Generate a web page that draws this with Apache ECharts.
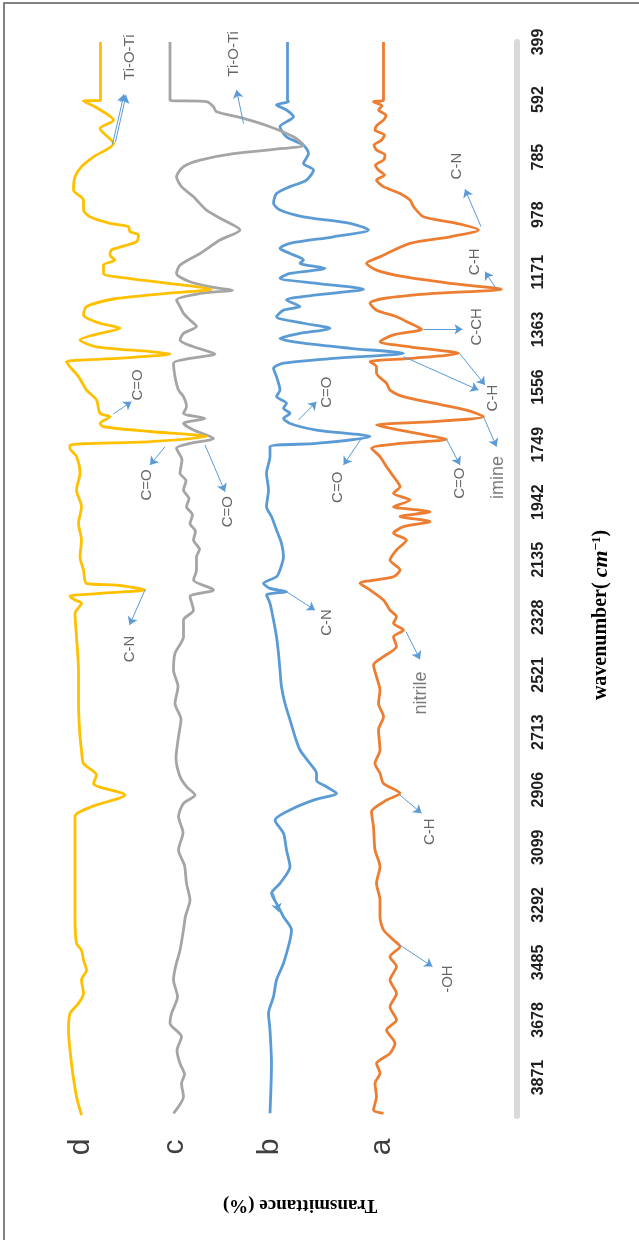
<!DOCTYPE html>
<html>
<head>
<meta charset="utf-8">
<script src="https://cdn.jsdelivr.net/npm/echarts@6.0.0/dist/echarts.min.js"></script>
<style>
  html, body {margin: 0; padding: 0; background: #fff;}
  #main {width: 639px; height: 1240px;}
</style>
</head>
<body>
<div id="main"></div>
<script>
// wavenumber labels shown on the axis (cm-1)
const tickWaves = [399, 592, 785, 978, 1171, 1363, 1556, 1749, 1942, 2135, 2328, 2521, 2713, 2906, 3099, 3292, 3485, 3678, 3871];

// d (yellow)
const waveD = [399, 594, 597, 616, 661, 689, 739, 784, 817, 851, 895, 929, 962, 985, 1007, 1018, 1035, 1046, 1069, 1096, 1113, 1130, 1147, 1175, 1191, 1214, 1228, 1242, 1259, 1286, 1314, 1342, 1359, 1376, 1398, 1421, 1437, 1445, 1460, 1471, 1488, 1521, 1566, 1599, 1644, 1655, 1678, 1689, 1705, 1722, 1739, 1750, 1761, 1789, 1845, 1901, 1957, 2013, 2069, 2125, 2169, 2214, 2220, 2236, 2248, 2257, 2270, 2281, 2315, 2393, 2505, 2617, 2728, 2773, 2818, 2857, 2885, 2924, 2957, 2980, 2996, 3108, 3220, 3332, 3421, 3444, 3477, 3511, 3544, 3589, 3622, 3656, 3712, 3824, 3935, 3997];
const transD = [83.3, 83.3, 86.7, 84.4, 80.7, 83.4, 80.7, 84.7, 87.1, 88.4, 88.7, 86.7, 86.7, 85.4, 81.4, 77.7, 77.4, 75.7, 76.1, 81.1, 81.4, 80.4, 82.7, 82.7, 78.1, 66.7, 61.1, 70.1, 80.1, 86.1, 86.7, 83.4, 79.4, 83.4, 87.4, 84.1, 73.4, 69.4, 80.1, 90.1, 89.4, 87.7, 86.1, 84.1, 83.4, 81.4, 83.4, 82.7, 73.4, 62.1, 73.4, 89.4, 89.4, 88.1, 87.4, 88.1, 87.1, 87.7, 87.1, 87.4, 86.7, 86.1, 80.1, 74.4, 83.4, 89.4, 88.4, 87.1, 88.4, 88.1, 87.7, 87.7, 87.4, 87.1, 86.7, 84.1, 84.7, 78.4, 84.1, 87.4, 88.4, 88.4, 88.4, 88.4, 88.1, 87.1, 86.7, 86.1, 87.1, 86.7, 87.7, 89.4, 89.7, 89.1, 88.1, 87.1];

// c (gray)
const waveC = [399, 594, 599, 616, 633, 655, 683, 717, 745, 756, 773, 795, 817, 851, 884, 918, 963, 996, 1029, 1063, 1108, 1147, 1175, 1203, 1222, 1231, 1242, 1264, 1286, 1309, 1331, 1353, 1376, 1398, 1421, 1445, 1460, 1476, 1521, 1566, 1588, 1622, 1644, 1661, 1678, 1700, 1728, 1745, 1761, 1800, 1845, 1870, 1901, 1930, 1957, 1985, 2013, 2040, 2069, 2100, 2125, 2169, 2203, 2236, 2259, 2304, 2337, 2393, 2449, 2505, 2560, 2617, 2670, 2728, 2800, 2862, 2896, 2924, 2952, 2996, 3050, 3108, 3160, 3220, 3276, 3330, 3376, 3444, 3500, 3544, 3600, 3656, 3689, 3734, 3780, 3824, 3860, 3891, 3935, 3991];
const transC = [69.4, 69.4, 62.1, 60.7, 60.1, 54.7, 49.4, 44.7, 42.7, 46.7, 56.7, 63.4, 66.7, 68.1, 67.1, 64.7, 62.1, 58.7, 55.4, 59.4, 63.4, 67.4, 68.1, 65.4, 60.7, 56.9, 63.4, 68.1, 67.4, 66.7, 65.4, 64.1, 66.7, 67.4, 64.7, 60.4, 65.4, 68.7, 68.4, 67.7, 66.7, 66.1, 66.7, 62.4, 66.7, 64.7, 60.7, 65.4, 68.1, 67.0, 67.4, 66.2, 66.7, 65.6, 66.1, 64.9, 65.4, 64.3, 64.7, 63.5, 64.1, 64.1, 64.7, 60.7, 65.4, 64.7, 66.7, 66.7, 68.4, 68.7, 67.8, 68.4, 67.2, 67.7, 68.2, 67.4, 66.1, 64.4, 66.7, 67.7, 66.8, 67.7, 66.5, 66.1, 65.4, 66.3, 66.7, 67.4, 68.3, 68.7, 67.9, 69.1, 69.4, 67.1, 68.0, 67.4, 66.5, 67.1, 66.7, 68.7];

// b (blue)
const waveB = [399, 594, 599, 610, 627, 650, 683, 717, 745, 773, 806, 828, 862, 884, 907, 940, 962, 985, 1007, 1029, 1052, 1074, 1091, 1108, 1130, 1141, 1158, 1175, 1191, 1208, 1228, 1247, 1264, 1286, 1298, 1320, 1342, 1359, 1376, 1393, 1409, 1426, 1443, 1460, 1476, 1493, 1521, 1566, 1588, 1610, 1627, 1644, 1661, 1678, 1700, 1722, 1745, 1756, 1789, 1845, 1901, 1957, 1990, 2035, 2080, 2125, 2169, 2192, 2214, 2231, 2242, 2253, 2281, 2337, 2393, 2449, 2505, 2561, 2617, 2672, 2728, 2773, 2818, 2851, 2874, 2896, 2918, 2941, 2974, 3008, 3052, 3108, 3164, 3220, 3253, 3287, 3332, 3376, 3410, 3488, 3544, 3600, 3656, 3712, 3824, 3991];
const transB = [45.9, 45.9, 45.7, 48.1, 46.1, 44.7, 47.4, 46.1, 42.7, 41.7, 42.7, 40.7, 42.1, 45.4, 48.1, 48.7, 47.4, 42.7, 33.4, 29.7, 36.7, 45.4, 47.4, 45.4, 42.7, 43.4, 38.4, 45.4, 47.4, 40.1, 30.7, 40.1, 46.1, 43.4, 46.7, 48.1, 42.7, 37.4, 43.4, 47.4, 42.7, 33.4, 22.7, 36.7, 46.7, 48.7, 48.1, 47.4, 48.1, 46.1, 46.7, 45.4, 46.7, 45.4, 40.1, 29.4, 40.1, 49.4, 49.4, 50.1, 49.7, 50.1, 49.1, 48.1, 47.1, 46.7, 47.4, 48.1, 50.7, 49.4, 46.1, 50.1, 49.4, 48.7, 48.1, 47.7, 47.4, 47.1, 46.4, 45.4, 44.4, 43.4, 41.4, 40.1, 40.1, 38.1, 36.1, 40.7, 45.4, 48.4, 46.7, 46.1, 45.4, 47.4, 49.1, 48.1, 46.7, 45.1, 45.4, 46.7, 48.1, 48.7, 49.7, 49.4, 49.1, 49.4];

// a (orange)
const waveA = [399, 594, 599, 613, 627, 645, 661, 678, 694, 711, 728, 745, 761, 778, 795, 812, 828, 845, 862, 884, 907, 929, 951, 985, 1007, 1029, 1052, 1074, 1119, 1141, 1164, 1186, 1208, 1228, 1242, 1259, 1275, 1298, 1320, 1342, 1362, 1381, 1404, 1421, 1443, 1460, 1471, 1488, 1510, 1543, 1566, 1588, 1610, 1633, 1655, 1672, 1683, 1700, 1717, 1731, 1745, 1761, 1789, 1823, 1856, 1890, 1912, 1935, 1957, 1974, 1990, 2007, 2024, 2046, 2069, 2102, 2136, 2169, 2192, 2214, 2236, 2270, 2304, 2326, 2348, 2371, 2393, 2426, 2460, 2488, 2527, 2572, 2617, 2661, 2706, 2773, 2818, 2851, 2885, 2918, 2941, 2980, 3030, 3108, 3164, 3220, 3276, 3332, 3376, 3410, 3432, 3466, 3499, 3544, 3589, 3634, 3678, 3712, 3756, 3790, 3824, 3857, 3891, 3935, 3980, 3991];
const transA = [26.7, 26.7, 28.7, 27.0, 27.7, 26.2, 26.7, 28.0, 28.4, 26.5, 27.1, 28.6, 28.1, 26.4, 26.7, 28.3, 27.7, 26.5, 28.1, 26.7, 23.4, 21.4, 20.7, 18.7, 12.1, 7.7, 13.4, 21.4, 27.4, 30.1, 28.1, 22.7, 13.4, 3.1, 16.7, 26.7, 29.4, 28.1, 24.1, 21.4, 19.1, 24.7, 27.4, 21.4, 11.7, 21.4, 29.4, 28.1, 28.1, 26.1, 25.4, 22.7, 16.7, 10.1, 6.7, 16.7, 28.1, 23.4, 18.1, 14.1, 23.4, 29.1, 27.4, 26.1, 24.7, 23.4, 24.7, 21.4, 24.7, 17.4, 23.4, 17.4, 22.7, 24.7, 22.1, 24.1, 25.4, 23.4, 24.7, 31.4, 29.4, 26.7, 25.4, 24.1, 24.7, 22.7, 24.7, 24.1, 26.7, 28.7, 28.1, 27.4, 27.7, 26.7, 27.7, 27.4, 28.4, 27.4, 26.7, 23.4, 26.1, 29.1, 28.7, 28.4, 27.4, 28.1, 27.4, 27.4, 26.7, 24.7, 23.4, 25.4, 24.1, 25.4, 24.1, 25.4, 24.1, 26.1, 24.4, 25.4, 28.1, 27.4, 28.4, 28.1, 28.7, 26.7];

// peak notes
const noteText = ['Ti-O-Ti', 'Ti-O-Ti', 'C-N', 'C-H', 'C-CH', 'C-H', 'imine', 'C=O', 'C=O', 'C=O', 'C=O', 'C=O', 'C=O', 'C-N', 'C-N', 'nitrile', 'C-H', '-OH'];
const noteWave = [450, 439, 815, 1136, 1354, 1593, 1859, 1878, 1892, 1573, 1549, 1884, 1974, 2434, 2345, 2582, 3047, 3541];
const noteTrans = [77.4, 56.6, 12.1, 8.4, 8.1, 4.8, 3.8, 11.4, 35.8, 38.0, 75.8, 74.1, 57.8, 77.4, 38.1, 19.1, 17.4, 13.8];

// arrows [transmittance, wavenumber]
const arrowFrom = [[80.9, 742], [80.3, 734], [54.7, 672], [7.2, 1018], [4.1, 1228], [18.7, 1362], [11.4, 1445], [22.7, 1454], [6.7, 1655], [14.1, 1731], [31.1, 1728], [43.7, 1666], [80.7, 1646], [70.4, 1756], [62.4, 1750], [74.4, 2236], [46.1, 2242], [22.2, 2376], [23.4, 2924], [23.4, 3427], [48.7, 3253]];
const arrowTo = [[78.6, 574], [78.2, 577], [56.1, 560], [10.4, 893], [6.4, 1169], [10.9, 1362], [6.4, 1549], [7.7, 1566], [4.1, 1756], [11.4, 1817], [34.7, 1817], [40.1, 1605], [77.1, 1605], [73.4, 1817], [58.4, 1907], [77.5, 2354], [40.4, 2304], [19.4, 2469], [19.1, 2985], [16.9, 3499], [47.7, 3315]];

const sampleNames = ['d', 'c', 'b', 'a'];

function pairs(w, t) {
  return w.map((x, i) => [t[i], x]);
}

function spectrum(name, w, t, color) {
  return {
    name: name,
    type: 'line',
    data: pairs(w, t),
    symbol: 'none',
    smooth: 0.25,
    silent: true,
    lineStyle: {color: color, width: 2.8, join: 'round'},
    emphasis: {disabled: true}
  };
}

const chart = echarts.init(document.getElementById('main'));

const option = {
  backgroundColor: '#fff',
  animation: false,
  grid: {left: 17, right: 122, top: 42, bottom: 124},
  xAxis: {type: 'value', min: 0, max: 100, inverse: true, show: false},
  yAxis: {
    type: 'value',
    min: 399,
    max: 4000,
    inverse: true,
    position: 'right',
    axisLine: {show: true, onZero: false, lineStyle: {color: '#d9d9d9', width: 6}},
    axisTick: {show: false},
    splitLine: {show: false},
    axisLabel: {
      customValues: tickWaves,
      formatter: v => String(v),
      rotate: 90,
      margin: 14,
      color: '#1f1f1f',
      fontSize: 16,
      fontWeight: 'bold',
      fontFamily: 'Liberation Sans'
    }
  },
  series: [
    spectrum('a', waveA, transA, '#ed7d31'),
    spectrum('b', waveB, transB, '#5b9bd5'),
    spectrum('c', waveC, transC, '#a5a5a5'),
    spectrum('d', waveD, transD, '#ffc000'),
    {
      type: 'scatter',
      silent: true,
      symbolSize: 1,
      itemStyle: {color: 'transparent'},
      emphasis: {disabled: true},
      data: noteText.map((txt, i) => ({
        value: [noteTrans[i], noteWave[i], txt],
        label: (txt === 'imine' || txt === 'nitrile') ? {fontSize: 18, color: '#595959'} : {}
      })),
      label: {
        show: true,
        position: 'inside',
        rotate: 90,
        formatter: p => p.value[2],
        fontSize: 15,
        color: '#404040',
        fontFamily: 'Liberation Sans'
      },
      markLine: {
        silent: true,
        symbol: ['none', 'arrow'],
        symbolSize: 8,
        label: {show: false},
        lineStyle: {color: '#5b9bd5', width: 1, type: 'solid'},
        emphasis: {disabled: true},
        data: arrowFrom.map((f, i) => [{coord: f}, {coord: arrowTo[i]}])
      },
      z: 5
    }
  ],
  graphic: [
    {
      type: 'rect', silent: true,
      shape: {x: 4, y: 3, width: 700, height: 1300},
      style: {fill: 'none', stroke: '#595959', lineWidth: 1.5}
    },
    {
      type: 'text', silent: true, x: 601, y: 615, rotation: Math.PI / 2,
      style: {
        text: '{b|wavenumber( }{i|cm}{s|−1}{b|)}',
        align: 'center', verticalAlign: 'middle',
        fill: '#000',
        rich: {
          b: {fontFamily: 'Liberation Serif', fontWeight: 'bold', fontSize: 20, fill: '#000'},
          i: {fontFamily: 'Liberation Serif', fontWeight: 'bold', fontStyle: 'italic', fontSize: 22, fill: '#000'},
          s: {fontFamily: 'Liberation Serif', fontWeight: 'bold', fontSize: 13, verticalAlign: 'top', fill: '#000'}
        }
      }
    },
    {
      type: 'text', silent: true, x: 300, y: 1205, rotation: Math.PI,
      style: {
        text: 'Transmittance (%)',
        align: 'center', verticalAlign: 'middle',
        fontFamily: 'Liberation Serif', fontWeight: 'bold', fontSize: 19, fill: '#000'
      }
    }
  ].concat(sampleNames.map((n, i) => ({
    type: 'text', silent: true,
    x: [81, 175, 270, 382][i], y: 1147, rotation: Math.PI / 2,
    style: {
      text: n, align: 'center', verticalAlign: 'middle',
      fontFamily: 'Liberation Sans', fontSize: 30, fill: '#404040'
    }
  })))
};

chart.setOption(option);
window.addEventListener('resize', () => chart.resize());
</script>
</body>
</html>
